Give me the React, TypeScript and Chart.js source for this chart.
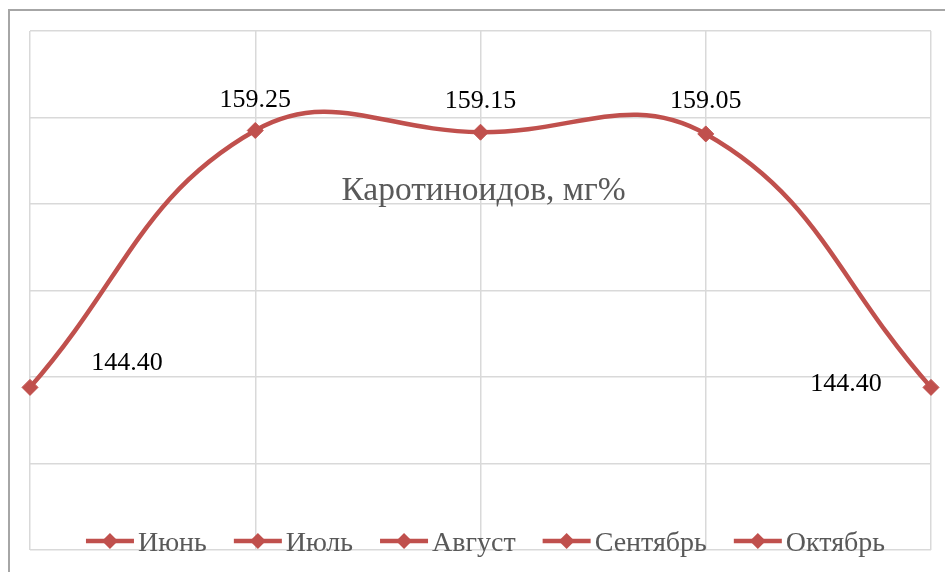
import React, { useEffect, useRef } from "react";
import { Chart, registerables } from "chart.js";

Chart.register(...registerables);

const categories = ["Июнь", "Июль", "Август", "Сентябрь", "Октябрь"];
const values = [144.4, 159.25, 159.15, 159.05, 144.4];
const valueLabels = ["144.40", "159.25", "159.15", "159.05", "144.40"];
const chartTitle = "Каротиноидов, мг%";
const yMin = 135;
const yMax = 165;
const yStep = 5;

const RED = "#C0504D";
const GRAY_TEXT = "#595959";
const GRID = "#D9D9D9";
const SERIF = "'Liberation Serif', 'Times New Roman', serif";

// label offsets relative to the point (dx, dy to baseline)
const labelOffsets: [number, number][] = [
  [97, -17],
  [0, -23],
  [0, -24],
  [0, -26],
  [-85, 4],
];

const overlayPlugin = {
  id: "overlay",
  afterDatasetsDraw(chart: any) {
    const { ctx, chartArea } = chart;
    const meta = chart.getDatasetMeta(0);
    ctx.save();
    // data labels
    ctx.font = `26px ${SERIF}`;
    ctx.fillStyle = "#000000";
    ctx.textAlign = "center";
    ctx.textBaseline = "alphabetic";
    meta.data.forEach((pt: any, i: number) => {
      const [dx, dy] = labelOffsets[i];
      ctx.fillText(valueLabels[i], pt.x + dx, pt.y + dy);
    });
    // title inside plot
    ctx.font = `33.5px ${SERIF}`;
    ctx.fillStyle = GRAY_TEXT;
    ctx.fillText(chartTitle, (chartArea.left + chartArea.right) / 2 + 3, 200);
    // legend
    ctx.font = `28px ${SERIF}`;
    ctx.textAlign = "left";
    const markerW = 48;
    const textGap = 4;
    const itemGap = 27;
    const widths = categories.map((c) => ctx.measureText(c).width);
    const total =
      widths.reduce((a, w) => a + markerW + textGap + w, 0) +
      itemGap * (categories.length - 1);
    let x = (chartArea.left + chartArea.right) / 2 + 5 - total / 2;
    const ly = 541;
    categories.forEach((c, i) => {
      ctx.strokeStyle = RED;
      ctx.lineWidth = 4.5;
      ctx.lineCap = "butt";
      ctx.beginPath();
      ctx.moveTo(x, ly);
      ctx.lineTo(x + markerW, ly);
      ctx.stroke();
      const cx = x + markerW / 2;
      const r = 8;
      ctx.fillStyle = RED;
      ctx.beginPath();
      ctx.moveTo(cx, ly - r);
      ctx.lineTo(cx + r, ly);
      ctx.lineTo(cx, ly + r);
      ctx.lineTo(cx - r, ly);
      ctx.closePath();
      ctx.fill();
      ctx.fillStyle = GRAY_TEXT;
      ctx.fillText(c, x + markerW + textGap, 551);
      x += markerW + textGap + widths[i] + itemGap;
    });
    ctx.restore();
  },
};

export default function App() {
  const ref = useRef<HTMLCanvasElement | null>(null);
  useEffect(() => {
    if (!ref.current) return;
    const chart = new Chart(ref.current, {
      type: "line",
      data: {
        labels: categories,
        datasets: [
          {
            label: chartTitle,
            data: values,
            borderColor: RED,
            backgroundColor: RED,
            borderWidth: 4.5,
            tension: 0.42,
            pointStyle: "rectRot",
            pointRadius: 8,
            pointBorderWidth: 1,
            pointBorderColor: RED,
            pointBackgroundColor: RED,
            clip: false,
          } as any,
        ],
      },
      options: {
        animation: false,
        responsive: false,
        maintainAspectRatio: false,
        layout: { padding: { left: 30, top: 31, right: 14, bottom: 22 } },
        plugins: {
          legend: { display: false },
          title: { display: false },
          tooltip: { enabled: false },
        },
        scales: {
          x: {
            offset: false,
            grid: { color: GRID, lineWidth: 1.5, drawTicks: false },
            border: { display: false },
            ticks: { display: false },
          },
          y: {
            min: yMin,
            max: yMax,
            grid: { color: GRID, lineWidth: 1.5, drawTicks: false },
            border: { display: false },
            ticks: { display: false, stepSize: yStep },
          },
        },
      },
      plugins: [overlayPlugin],
    });
    return () => chart.destroy();
  }, []);

  return (
    <div
      style={{
        position: "fixed",
        left: 0,
        top: 0,
        width: 945,
        height: 572,
        overflow: "hidden",
        background: "#ffffff",
      }}
    >
      <div
        style={{
          position: "absolute",
          left: 8,
          top: 9,
          width: 1000,
          height: 1000,
          borderLeft: "2px solid #A6A6A6",
          borderTop: "2px solid #A6A6A6",
        }}
      />
      <canvas
        ref={ref}
        width={945}
        height={572}
        style={{ position: "absolute", left: 0, top: 0, width: 945, height: 572 }}
      />
    </div>
  );
}
